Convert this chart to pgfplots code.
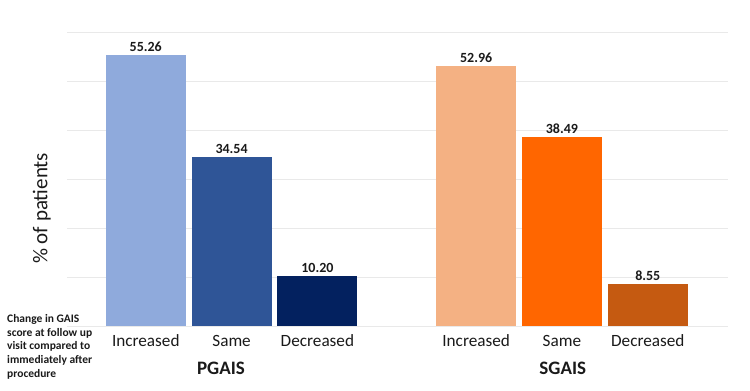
\documentclass[border=0pt]{standalone}
\usepackage{fontspec}
\setmainfont{Carlito}
\usepackage{pgfplots}
\pgfplotsset{compat=1.18}

\definecolor{pInc}{HTML}{8FAADC}
\definecolor{pSame}{HTML}{2F5597}
\definecolor{pDec}{HTML}{03215F}
\definecolor{sInc}{HTML}{F4B183}
\definecolor{sSame}{HTML}{FF6600}
\definecolor{sDec}{HTML}{C55A11}
\definecolor{gridgray}{HTML}{E9E9E9}
\definecolor{txt}{HTML}{1A1A1A}

\begin{document}
\begin{tikzpicture}[x=1pt,y=1pt]
\useasboundingbox (0,0) rectangle (750,391);
\begin{axis}[
  at={(67pt,65pt)}, anchor=south west,
  scale only axis, width=661pt, height=294pt,
  xmin=-0.918, xmax=6.785, ymin=0, ymax=60,
  ytick={0,10,...,60}, yticklabels={},
  ymajorgrids, grid style={line width=0.9pt, color=gridgray},
  axis line style={draw=none}, major tick length=0pt,
  xtick={0,1,2,3.85,4.85,5.85},
  xticklabels={Increased,Same,Decreased,Increased,Same,Decreased},
  xticklabel style={font=\fontsize{17.2}{18}\selectfont, text=txt, yshift=-5.5pt},
  ylabel={\% of patients},
  ylabel style={at={(axis description cs:-0.038,0.40)}, anchor=center,
    font=\fontsize{21}{24}\selectfont, text=txt},
  ybar, bar width=0.932, bar shift=0pt,
  clip=false,
  nodes near coords,
  nodes near coords style={font=\bfseries\fontsize{14}{16}\selectfont, text=txt},
  /pgf/number format/fixed,
  /pgf/number format/precision=2,
  /pgf/number format/fixed zerofill,
  /pgf/number format/assume math mode=true,
]
% PGAIS group
\addplot[fill=pInc, draw=none] coordinates {(0,55.26)};
\addplot[fill=pSame, draw=none] coordinates {(1,34.54)};
\addplot[fill=pDec, draw=none] coordinates {(2,10.20)};
% SGAIS group
\addplot[fill=sInc, draw=none] coordinates {(3.85,52.96)};
\addplot[fill=sSame, draw=none] coordinates {(4.85,38.49)};
\addplot[fill=sDec, draw=none] coordinates {(5.85,8.55)};

\node[font=\bfseries\fontsize{19}{20}\selectfont, text=txt] at (axis cs:0.876,0) [yshift=-42pt] {PGAIS};
\node[font=\bfseries\fontsize{19}{20}\selectfont, text=txt] at (axis cs:4.86,0) [yshift=-42pt] {SGAIS};
\end{axis}
\node[anchor=north west, inner sep=0pt, align=left, text=txt,
  font=\bfseries\fontsize{11.5}{13.6}\selectfont] at (7,76.5)
  {Change in GAIS\\score at follow up\\visit compared to\\immediately after\\procedure};
\end{tikzpicture}
\end{document}
